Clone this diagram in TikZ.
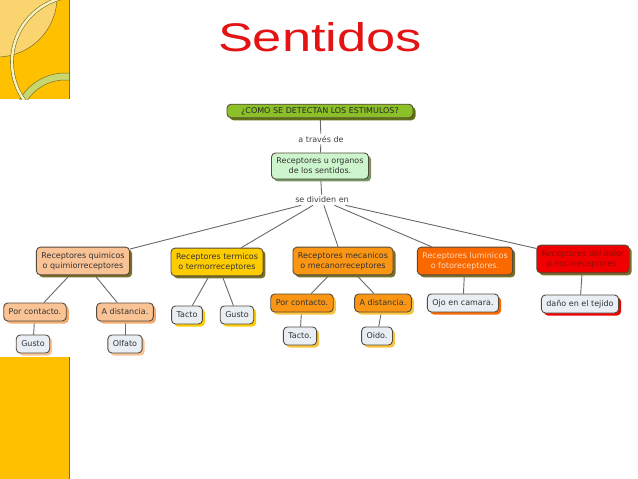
\documentclass[tikz,border=0pt]{standalone}
\usepackage{fontspec}
\setmainfont{DejaVu Sans}
\newfontfamily\titlefont{Liberation Sans}
\usetikzlibrary{shadows,backgrounds}

\definecolor{slideyellow}{RGB}{255,192,0}
\definecolor{slideedge}{RGB}{135,112,20}
\definecolor{paleyellow}{RGB}{250,212,110}
\definecolor{ringgreen}{RGB}{200,214,110}
\definecolor{arccream}{RGB}{250,242,190}
\definecolor{olive}{RGB}{120,112,40}
\definecolor{qgreen}{RGB}{140,192,40}
\definecolor{qshadow}{RGB}{95,115,20}
\definecolor{lightgreen}{RGB}{205,245,205}
\definecolor{sshadow}{RGB}{120,150,100}
\definecolor{peach}{RGB}{250,195,150}
\definecolor{peachdark}{RGB}{242,172,115}
\definecolor{gold}{RGB}{255,204,0}
\definecolor{mecorange}{RGB}{250,150,20}
\definecolor{mecshadow}{RGB}{250,195,60}
\definecolor{lumorange}{RGB}{250,105,0}
\definecolor{lumtext}{RGB}{255,215,190}
\definecolor{dolorred}{RGB}{240,0,0}
\definecolor{dolortext}{RGB}{140,15,10}
\definecolor{leafgray}{RGB}{232,238,244}
\definecolor{boxline}{RGB}{85,75,60}
\definecolor{linkgray}{RGB}{105,105,105}
\definecolor{titlered}{RGB}{228,20,20}

\begin{document}
\begin{tikzpicture}[x=1pt, y=-1pt,
  cbox/.style={draw=boxline, line width=0.9pt, rounded corners=4pt, fill=#1,
    inner xsep=5pt, inner ysep=5pt, align=center,
    font=\fontsize{8}{10}\selectfont, text=black!80},
  leaf/.style={cbox=#1, inner ysep=3pt, minimum height=18pt},
  shade/.style={drop shadow={fill=#1, opacity=1, shadow xshift=2.5pt, shadow yshift=-2.5pt}},
  link/.style={draw=linkgray, line width=0.9pt},
  linklabel/.style={font=\fontsize{8}{10}\selectfont, text=black!75, inner sep=2pt}]
\useasboundingbox (0,0) rectangle (638,479);

% slide band on the left
\fill[slideyellow] (0,0) rectangle (70,99);
\begin{scope}
\clip (0,0) rectangle (70,99);
\fill[paleyellow, draw=olive, line width=0.5pt] (-3,-3) circle[radius=60pt];
\fill[ringgreen, draw=olive, line width=0.5pt, even odd rule] (65,125) circle[radius=52pt] (65,125) circle[radius=45pt];
\draw[olive, line width=3.6pt] (78,62) circle[radius=66pt];
\draw[arccream, line width=2.4pt] (78,62) circle[radius=66pt];
\end{scope}
\draw[slideedge, line width=1.5pt] (69.3,0) -- (69.3,99);
\fill[slideyellow] (0,357) rectangle (70,479);
\draw[slideedge, line width=1.5pt] (69.3,357) -- (69.3,479);

% title
\node[anchor=base, font=\titlefont\fontsize{40}{48}\selectfont, text=titlered, inner sep=0pt] (title) at (320,52) {\scalebox{1.31}[1]{Sentidos}};

% top of the map
\node[cbox=qgreen, shade=qshadow, inner ysep=3pt, minimum width=186pt, text=black!85] (ques) at (320,111) {¿COMO SE DETECTAN LOS ESTIMULOS?};
\node[linklabel] (atraves) at (321,139) {a través de};
\node[cbox=lightgreen, shade=sshadow] (sens) at (320,166) {Receptores u organos\\de los sentidos.};
\node[linklabel] (divid) at (322,200) {se dividen en};

% kinds of receptors
\node[cbox=peach, shade=olive] (quim) at (83,261) {Receptores quimicos\\o quimiorreceptores};
\node[cbox=gold, shade=olive] (term) at (217,262) {Receptores termicos\\o termorreceptores};
\node[cbox=mecorange, shade=olive] (meca) at (343,261) {Receptores mecanicos\\o mecanorreceptores};
\node[cbox=lumorange, shade=olive, text=lumtext] (lumi) at (465,261) {Receptores luminicos\\o fotoreceptores.};
\node[cbox=dolorred, shade=olive, text=dolortext] (dolor) at (583,259) {Receptores del dolor\\o nocirreceptores.};

% lower levels
\node[leaf=peach, shade=peachdark] (qcon) at (35,312) {Por contacto.};
\node[leaf=peach, shade=peachdark] (qdis) at (125,312) {A distancia.};
\node[leaf=leafgray, shade=peach] (qgus) at (33,344) {Gusto};
\node[leaf=leafgray, shade=peach] (qolf) at (125,344) {Olfato};
\node[leaf=leafgray, shade=gold] (ttac) at (187,315) {Tacto};
\node[leaf=leafgray, shade=gold] (tgus) at (237,315) {Gusto};
\node[leaf=mecorange, shade=mecshadow] (mcon) at (302,303) {Por contacto.};
\node[leaf=mecorange, shade=mecshadow] (mdis) at (383,303) {A distancia.};
\node[leaf=leafgray, shade=mecshadow] (mtac) at (300,336) {Tacto.};
\node[leaf=leafgray, shade=mecshadow] (moid) at (377,336) {Oido.};
\node[leaf=leafgray, shade=lumorange] (lojo) at (463,303) {Ojo en camara.};
\node[leaf=leafgray, shade=dolorred] (ddan) at (580,304) {daño en el tejido};

\begin{scope}[on background layer]
\draw[link] (ques) -- (atraves);
\draw[link] (atraves) -- (sens);
\draw[link] (sens) -- (divid);
\foreach \c in {quim,term,meca,lumi,dolor}
  \draw[link] (divid) -- (\c);
\foreach \a/\b in {quim/qcon, quim/qdis, qcon/qgus, qdis/qolf, term/ttac, term/tgus,
                   meca/mcon, meca/mdis, mcon/mtac, mdis/moid, lumi/lojo, dolor/ddan}
  \draw[link] (\a) -- (\b);
\end{scope}
\end{tikzpicture}
\end{document}
